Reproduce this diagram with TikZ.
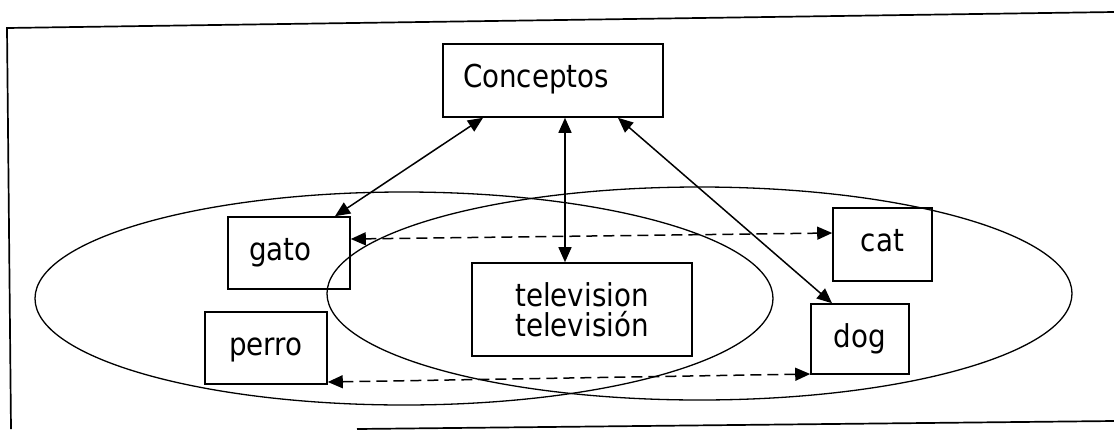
\documentclass[tikz,border=0pt]{standalone}
\usepackage{fontspec}
\setmainfont{DejaVu Sans}[FakeStretch=0.88]
\usetikzlibrary{arrows.meta}
\begin{document}
\begin{tikzpicture}[x=1pt,y=-1pt,
  box/.style={draw, line width=1.6pt, inner sep=0pt, font=\fontsize{31.5}{30}\selectfont},
  link/.style={line width=1.5pt, {Triangle[length=15pt,width=13pt]}-{Triangle[length=15pt,width=13pt]}},
  dlink/.style={link, dash pattern=on 11pt off 6pt},
  oval/.style={draw, line width=1.3pt},
  frame/.style={line width=1.7pt}]
\useasboundingbox (0,0) rectangle (1114,429);
% frame
\draw[frame] (1114,12) -- (7,28) -- (11,429);
\draw[frame] (357,429) -- (1114,421);
% ellipses
\draw[oval] (404,298.5) ellipse [x radius=369pt, y radius=106.5pt];
\draw[oval] (699.5,293.5) ellipse [x radius=372.5pt, y radius=106.5pt];
% nodes
\node[box, minimum width=220pt, minimum height=73pt, text width=180pt, align=left, text height=23pt, text depth=10pt] (con) at (553,80.5) {Conceptos};
\node[box, minimum width=122pt, minimum height=72pt, text width=80pt, align=left, text height=23pt, text depth=9pt] (gato) at (289,253) {gato};
\node[box, minimum width=122pt, minimum height=72pt, text height=23pt, text depth=9pt] (perro) at (266,348) {perro};
\node[box, minimum width=220pt, minimum height=93pt, align=center] (tv) at (582,309.5) {television\\televisión};
\node[box, minimum width=99pt, minimum height=73pt, text height=23pt, text depth=10pt] (cat) at (882.5,244.5) {cat};
\node[box, minimum width=98pt, minimum height=70pt, text height=24pt, text depth=8pt] (dog) at (860,339) {dog};
% connectors
\draw[link] ([xshift=-70pt]con.south) -- ([xshift=46pt]gato.north);
\draw[link] ([xshift=12pt]con.south) -- ([xshift=-17pt]tv.north);
\draw[link] ([xshift=65pt]con.south) -- ([xshift=-28pt]dog.north);
\draw[dlink] ([yshift=14pt]gato.east) -- ([yshift=11.5pt]cat.west);
\draw[dlink] ([yshift=-34pt]perro.east) -- ([yshift=-35pt]dog.west);
\end{tikzpicture}
\end{document}
